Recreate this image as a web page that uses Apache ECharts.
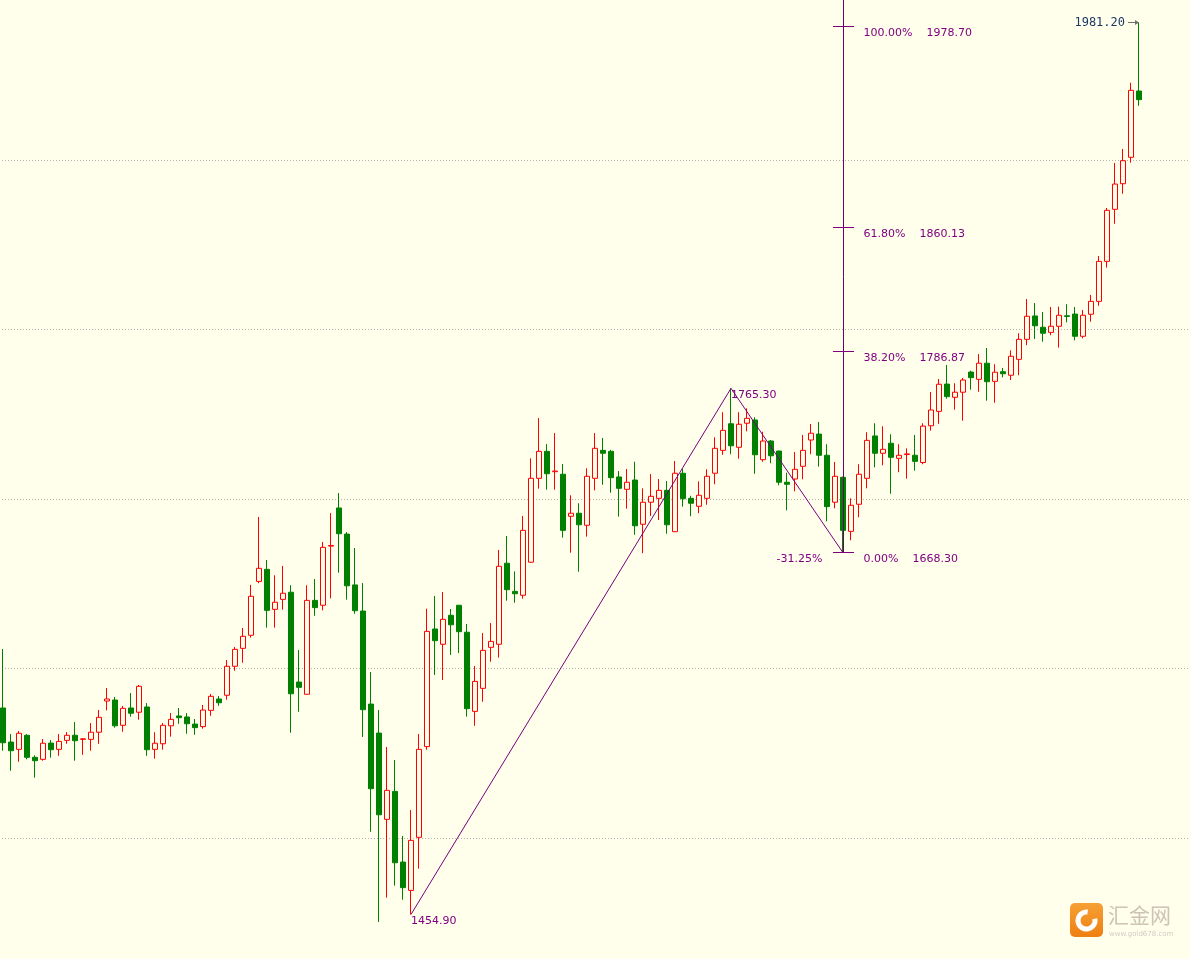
<!DOCTYPE html>
<html><head><meta charset="utf-8">
<script src="https://cdn.jsdelivr.net/npm/echarts@6/dist/echarts.min.js"></script>
<style>html,body{margin:0;padding:0;background:#ffffec;}#c{width:1190px;height:959px;}</style>
</head><body><div id="c"></div>
<script>
// ---------------- data ----------------
const opens = [1576.7,1556.6,1552.3,1560.6,1547.6,1546.4,1556.0,1552.3,1557.6,1560.6,
1558.2,1558.2,1562.4,1580.8,1581.4,1566.5,1576.7,1574.2,1577.3,1552.3,
1555.6,1566.2,1572.0,1571.4,1567.2,1565.7,1575.3,1582.0,1584.2,1601.3,
1611.9,1619.6,1651.4,1658.5,1634.9,1640.8,1645.0,1592.0,1584.8,1640.2,
1637.3,1672.2,1694.7,1679.3,1649.3,1633.9,1579.0,1561.9,1511.0,1527.5,
1485.8,1469.1,1500.4,1553.9,1623.3,1614.3,1631.4,1637.3,1621.4,1574.7,
1588.3,1612.5,1614.3,1662.1,1645.5,1643.2,1662.7,1712.2,1728.1,1716.1,
1714.6,1689.8,1691.6,1684.5,1712.2,1728.7,1728.1,1713.0,1705.7,1711.2,
1685.1,1698.1,1700.4,1705.1,1680.7,1715.2,1700.4,1695.7,1700.4,1715.2,
1728.7,1744.4,1730.5,1744.7,1746.6,1723.2,1734.2,1728.3,1709.9,1711.8,
1719.3,1734.8,1738.3,1725.8,1698.1,1712.8,1680.9,1696.9,1712.2,1737.2,
1727.0,1732.9,1724.0,1726.2,1725.8,1721.5,1743.2,1751.7,1767.8,1760.0,
1763.0,1774.9,1770.6,1780.1,1769.4,1775.1,1773.0,1782.4,1794.2,1808.0,
1801.3,1798.3,1801.9,1808.1,1809.1,1796.0,1809.0,1816.6,1840.2,1870.9,
1886.0,1901.6,1940.7];
const closes = [1556.2,1551.5,1561.8,1547.6,1545.6,1555.9,1552.1,1557.0,1560.6,1557.4,
1558.5,1562.4,1571.2,1582.0,1566.2,1576.5,1573.6,1589.5,1552.1,1555.9,
1566.5,1570.0,1571.0,1567.4,1565.1,1575.5,1583.6,1579.8,1601.3,1611.3,
1619.0,1642.6,1659.1,1634.3,1639.1,1644.4,1585.1,1588.9,1640.2,1635.9,
1671.5,1672.6,1679.5,1648.8,1634.1,1575.7,1529.1,1513.7,1528.1,1485.4,
1470.7,1498.6,1552.3,1621.9,1616.4,1629.0,1625.8,1621.7,1576.3,1592.4,
1610.7,1616.0,1660.3,1646.5,1644.1,1681.5,1712.2,1728.1,1714.9,1716.5,
1681.5,1691.6,1684.8,1713.4,1729.9,1727.0,1712.6,1706.3,1709.9,1684.2,
1698.1,1701.6,1705.1,1684.8,1715.2,1700.2,1697.5,1702.2,1713.4,1729.9,
1740.5,1731.4,1744.1,1747.6,1726.1,1734.2,1725.5,1709.9,1708.7,1717.5,
1728.7,1738.8,1725.8,1695.5,1713.4,1681.5,1696.3,1714.6,1734.6,1727.0,
1729.3,1724.6,1725.8,1726.6,1722.2,1743.0,1752.5,1767.7,1760.4,1763.0,
1770.2,1771.6,1780.1,1769.2,1774.8,1773.9,1784.2,1794.2,1807.8,1802.2,
1797.8,1801.9,1808.4,1807.7,1796.0,1808.4,1816.6,1840.2,1870.3,1885.8,
1899.6,1941.1,1935.6];
const lows = [1551.5,1539.7,1545.0,1546.4,1535.6,1545.6,1547.4,1548.5,1555.6,1545.6,
1549.1,1551.5,1555.6,1575.3,1565.1,1562.7,1571.6,1569.8,1548.5,1546.8,
1552.1,1559.8,1567.4,1561.5,1560.9,1564.5,1572.1,1578.0,1581.6,1598.7,
1603.4,1618.2,1650.3,1624.1,1624.1,1634.7,1562.1,1574.5,1584.5,1631.1,
1634.3,1641.4,1656.5,1640.6,1632.3,1559.6,1503.7,1450.5,1464.8,1471.9,
1463.6,1454.9,1481.9,1552.1,1596.2,1593.2,1608.0,1609.1,1571.6,1566.2,
1580.4,1604.0,1606.4,1640.0,1638.8,1641.2,1662.3,1706.1,1705.5,1705.5,
1677.2,1668.3,1657.1,1677.8,1705.1,1708.4,1703.7,1689.6,1694.3,1678.9,
1668.0,1690.0,1687.6,1679.5,1680.5,1695.5,1689.8,1691.6,1696.6,1708.7,
1726.1,1726.4,1723.8,1739.9,1714.9,1722.0,1721.1,1708.1,1693.3,1704.5,
1711.6,1726.4,1719.1,1686.8,1694.5,1668.3,1675.6,1689.2,1706.3,1718.7,
1719.9,1703.1,1715.8,1712.0,1716.7,1720.5,1740.4,1744.4,1759.2,1752.7,
1746.2,1764.5,1763.3,1758.0,1756.8,1771.8,1770.2,1773.0,1790.7,1794.4,
1792.8,1796.6,1789.3,1804.2,1793.6,1794.8,1804.6,1814.0,1836.5,1862.4,
1880.1,1898.4,1932.0];
const highs = [1611.5,1561.3,1563.1,1561.3,1548.8,1558.4,1557.8,1561.3,1562.5,1568.4,
1559.0,1567.8,1575.5,1588.5,1583.2,1577.9,1585.5,1590.3,1579.6,1562.4,
1567.8,1573.7,1576.7,1573.7,1570.2,1578.5,1585.0,1583.8,1605.0,1612.7,
1623.9,1649.3,1689.4,1664.0,1655.0,1660.5,1649.1,1610.9,1649.1,1652.8,
1674.6,1691.7,1703.5,1680.5,1671.1,1650.4,1597.9,1575.5,1553.7,1546.0,
1501.2,1516.5,1561.3,1635.3,1642.8,1645.1,1635.1,1637.5,1626.3,1601.5,
1620.9,1626.8,1669.9,1678.2,1657.3,1690.0,1724.0,1747.8,1732.4,1738.9,
1720.6,1702.2,1697.5,1718.1,1738.9,1736.0,1729.0,1716.5,1717.7,1722.0,
1706.3,1714.7,1711.8,1710.6,1722.4,1717.7,1701.9,1710.4,1717.5,1736.4,
1751.2,1765.3,1751.2,1753.5,1748.2,1739.7,1734.8,1728.5,1715.5,1727.7,
1737.8,1744.2,1745.4,1732.3,1721.8,1713.2,1700.4,1720.5,1739.4,1744.7,
1742.9,1738.2,1732.3,1729.9,1737.8,1744.7,1763.1,1770.8,1779.1,1768.3,
1771.4,1775.7,1785.5,1789.1,1779.5,1777.3,1787.7,1797.8,1818.0,1815.6,
1810.3,1813.3,1813.5,1814.9,1813.3,1811.5,1820.4,1843.4,1871.7,1898.2,
1906.5,1945.6,1981.2];
const emptySlots = 6;                       // blank bars to the right of the last candle
const categories = opens.concat(new Array(emptySlots).fill(null)).map((_, i) => String(i + 1));

// zigzag (low -> high -> low) and fibonacci retracement
const zigzag = [[51, 1454.90], [91, 1765.30], [105, 1668.30]];
const zigzagLabels = ['1454.90', '1765.30'];
const fibIndex = 105;
const fibPrices = [1978.70, 1860.13, 1786.87, 1668.30];
const fibPercents = ['100.00%', '61.80%', '38.20%', '0.00%'];
const fibExtraLabel = '-31.25%';
const lastHigh = [142, 1981.20];
const lastHighLabel = '1981.20';

// ---------------- chart ----------------
const BG = '#ffffec', PURPLE = '#800080', RED = '#ff0000', GREEN = '#008000';
const FONT = '11px "DejaVu Sans"';
const mctx = document.createElement('canvas').getContext('2d');
mctx.font = FONT;
const tw = s => mctx.measureText(s).width;

const candles = opens.map((o, i) => [o, closes[i], lows[i], highs[i]]);
const chart = echarts.init(document.getElementById('c'), null, {renderer: 'canvas'});
const crisp = v => Math.floor(v) + 0.5;

chart.setOption({
  backgroundColor: BG,
  animation: false,
  grid: {left: -1, right: -1, top: -9.5, bottom: -48.5, containLabel: false, outerBoundsMode: 'none'},
  xAxis: {type: 'category', data: categories, boundaryGap: true,
    axisLine: {show: false}, axisTick: {show: false}, axisLabel: {show: false}, splitLine: {show: false}},
  yAxis: {type: 'value', min: 1400, max: 2000, interval: 100, scale: true,
    axisLine: {show: false}, axisTick: {show: false}, axisLabel: {show: false},
    splitLine: {show: true, lineStyle: {color: '#b4b4b4', width: 1, type: [1, 2]}}},
  series: [
    {type: 'candlestick', data: candles, barWidth: 5,
      itemStyle: {color: BG, color0: GREEN, borderColor: RED, borderColor0: GREEN, borderWidth: 1},
      z: 2},
    {type: 'line', data: zigzag, symbol: 'none', z: 3, silent: true,
      lineStyle: {color: '#77007a', width: 1}},
    {type: 'custom', z: 5, silent: true, clip: false,
      data: fibPrices.map((p, i) => [fibIndex, p, i]),
      renderItem: function (params, api) {
        const pt = api.coord([api.value(0), api.value(1)]);
        const i = api.value(2);
        const x = crisp(pt[0]), y = crisp(pt[1]);
        const pct = fibPercents[i];
        const children = [
          {type: 'line', shape: {x1: x - 10.5, y1: y, x2: x + 10.5, y2: y}, style: {stroke: PURPLE, lineWidth: 1}},
          {type: 'text', x: x + 20, y: y + 7, style: {text: pct, fill: PURPLE, font: FONT, textAlign: 'left', textVerticalAlign: 'middle'}},
          {type: 'text', x: x + 20 + tw(pct) + 14, y: y + 7, style: {text: fibPrices[i].toFixed(2), fill: PURPLE, font: FONT, textAlign: 'left', textVerticalAlign: 'middle'}}
        ];
        if (i === fibPrices.length - 1) {
          // vertical fib line from 0% level to the top of the plot
          children.push({type: 'line', shape: {x1: x, y1: y, x2: x, y2: 0}, style: {stroke: '#6a006a', lineWidth: 1}});
          children.push({type: 'text', x: x - 21, y: y + 7, style: {text: fibExtraLabel, fill: PURPLE, font: FONT, textAlign: 'right', textVerticalAlign: 'middle'}});
        }
        return {type: 'group', children: children};
      }},
    {type: 'custom', z: 5, silent: true, clip: false,
      data: zigzag.slice(0, 2).map((d, i) => [d[0], d[1], i]),
      renderItem: function (params, api) {
        const pt = api.coord([api.value(0), api.value(1)]);
        return {type: 'text', x: pt[0], y: pt[1] + 7,
          style: {text: zigzagLabels[api.value(2)], fill: PURPLE, font: FONT, textAlign: 'left', textVerticalAlign: 'middle'}};
      }},
    {type: 'custom', z: 5, silent: true, clip: false,
      data: [lastHigh],
      renderItem: function (params, api) {
        const pt = api.coord([api.value(0), api.value(1)]);
        const x = Math.floor(pt[0]), y = crisp(pt[1]);
        return {type: 'group', children: [
          {type: 'line', shape: {x1: x - 11, y1: y, x2: x - 1, y2: y}, style: {stroke: '#707070', lineWidth: 1}},
          {type: 'polygon', shape: {points: [[x, y], [x - 4, y - 2.5], [x - 4, y + 2.5]]}, style: {fill: '#707070'}},
          {type: 'text', x: x - 14, y: y, style: {text: lastHighLabel, fill: '#1b3866', font: '12px "DejaVu Sans Mono"', textAlign: 'right', textVerticalAlign: 'middle'}}
        ]};
      }}
  ],
  graphic: [
    {type: 'group', left: 1070, top: 903, silent: true, children: [
      {type: 'rect', shape: {x: 0, y: 0, width: 33, height: 34, r: 5},
        style: {fill: new echarts.graphic.LinearGradient(0, 0, 0, 1, [{offset: 0, color: '#f6a035'}, {offset: 1, color: '#ef7f12'}])}},
      {type: 'arc', shape: {cx: 16.5, cy: 17.5, r: 8.5, startAngle: -0.2, endAngle: 4.85, clockwise: true},
        style: {stroke: '#ffffff', lineWidth: 5, fill: null}},
      {type: 'text', x: 38, y: 12, style: {text: '汇金网', fill: '#cdc3b8', font: '21px "Noto Sans CJK SC"', textVerticalAlign: 'middle'}},
      {type: 'text', x: 39, y: 31, style: {text: 'www.gold678.com', fill: '#d3cbc3', font: '7px "DejaVu Sans"', textVerticalAlign: 'middle'}}
    ]}
  ]
});
</script>
</body></html>
